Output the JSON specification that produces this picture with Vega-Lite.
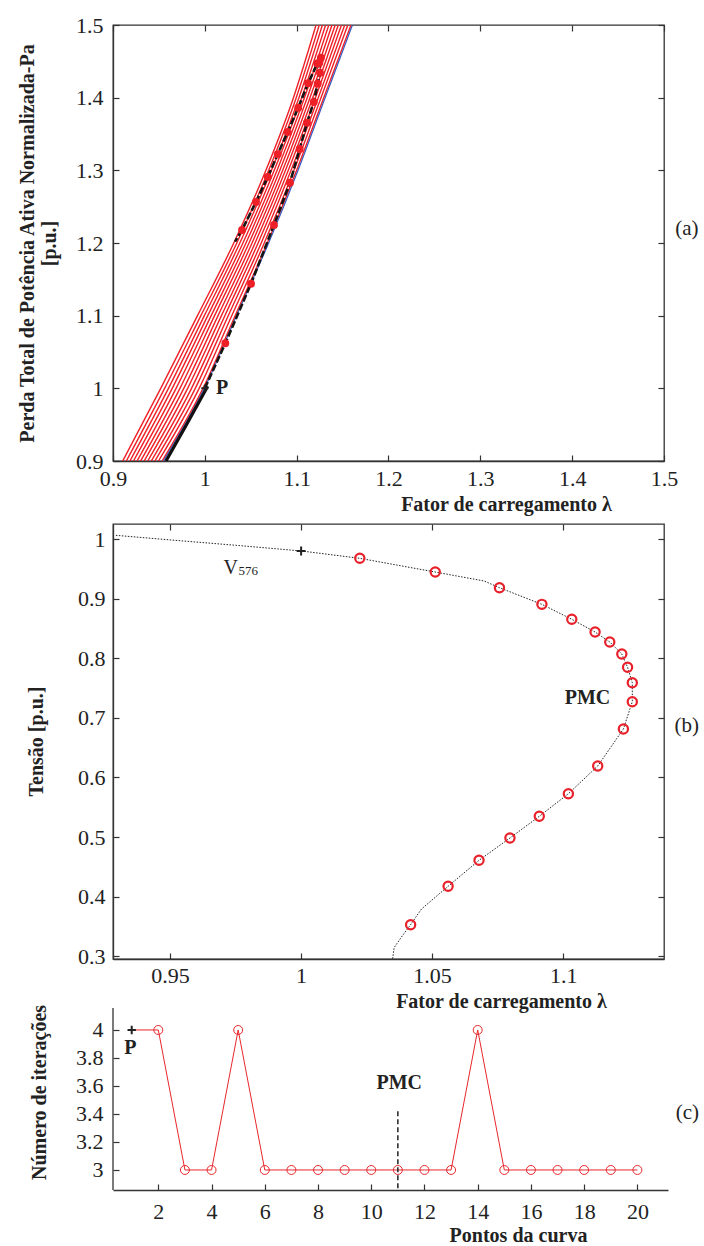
{
"$schema": "https://vega.github.io/schema/vega-lite/v6.json",
"padding": {"left": 16, "top": 13, "right": 0, "bottom": 0},
"bounds": "flush",
"spacing": 63,
"config": {
 "font": "Liberation Serif",
 "view": {"stroke": "#333", "strokeWidth": 1.3},
 "axis": {"labelFont": "Liberation Serif", "labelFontSize": 22, "labelColor": "#222", "titleFont": "Liberation Serif", "titleFontSize": 20, "titleFontWeight": "bold", "titleColor": "#222", "domainColor": "#333", "domainWidth": 1.3, "tickColor": "#333", "tickWidth": 1.2, "tickSize": -6, "grid": false, "labelFlush": false, "labelOverlap": false, "format": "~g", "titleAlign": "center", "titleBaseline": "middle"},
 "text": {"font": "Liberation Serif", "color": "#222"}
},
"datasets": {
 "band": [
  {"k":0,"x":0.9106,"y":0.9},{"k":0,"x":0.9520,"y":1.0},{"k":0,"x":0.9920,"y":1.1},{"k":0,"x":1.0315,"y":1.2},{"k":0,"x":1.0665,"y":1.3},{"k":0,"x":1.0965,"y":1.4},{"k":0,"x":1.1211,"y":1.5},
  {"k":1,"x":0.9145,"y":0.9},{"k":1,"x":0.9562,"y":1.0},{"k":1,"x":0.9957,"y":1.1},{"k":1,"x":1.0348,"y":1.2},{"k":1,"x":1.0695,"y":1.3},{"k":1,"x":1.0995,"y":1.4},{"k":1,"x":1.1246,"y":1.5},
  {"k":2,"x":0.9184,"y":0.9},{"k":2,"x":0.9604,"y":1.0},{"k":2,"x":0.9995,"y":1.1},{"k":2,"x":1.0381,"y":1.2},{"k":2,"x":1.0726,"y":1.3},{"k":2,"x":1.1025,"y":1.4},{"k":2,"x":1.1280,"y":1.5},
  {"k":3,"x":0.9223,"y":0.9},{"k":3,"x":0.9645,"y":1.0},{"k":3,"x":1.0032,"y":1.1},{"k":3,"x":1.0415,"y":1.2},{"k":3,"x":1.0756,"y":1.3},{"k":3,"x":1.1055,"y":1.4},{"k":3,"x":1.1315,"y":1.5},
  {"k":4,"x":0.9262,"y":0.9},{"k":4,"x":0.9687,"y":1.0},{"k":4,"x":1.0069,"y":1.1},{"k":4,"x":1.0448,"y":1.2},{"k":4,"x":1.0787,"y":1.3},{"k":4,"x":1.1085,"y":1.4},{"k":4,"x":1.1350,"y":1.5},
  {"k":5,"x":0.9301,"y":0.9},{"k":5,"x":0.9729,"y":1.0},{"k":5,"x":1.0106,"y":1.1},{"k":5,"x":1.0481,"y":1.2},{"k":5,"x":1.0817,"y":1.3},{"k":5,"x":1.1115,"y":1.4},{"k":5,"x":1.1384,"y":1.5},
  {"k":6,"x":0.9339,"y":0.9},{"k":6,"x":0.9771,"y":1.0},{"k":6,"x":1.0144,"y":1.1},{"k":6,"x":1.0514,"y":1.2},{"k":6,"x":1.0848,"y":1.3},{"k":6,"x":1.1145,"y":1.4},{"k":6,"x":1.1419,"y":1.5},
  {"k":7,"x":0.9378,"y":0.9},{"k":7,"x":0.9813,"y":1.0},{"k":7,"x":1.0181,"y":1.1},{"k":7,"x":1.0547,"y":1.2},{"k":7,"x":1.0878,"y":1.3},{"k":7,"x":1.1175,"y":1.4},{"k":7,"x":1.1453,"y":1.5},
  {"k":8,"x":0.9417,"y":0.9},{"k":8,"x":0.9855,"y":1.0},{"k":8,"x":1.0218,"y":1.1},{"k":8,"x":1.0580,"y":1.2},{"k":8,"x":1.0909,"y":1.3},{"k":8,"x":1.1205,"y":1.4},{"k":8,"x":1.1488,"y":1.5},
  {"k":9,"x":0.9456,"y":0.9},{"k":9,"x":0.9896,"y":1.0},{"k":9,"x":1.0255,"y":1.1},{"k":9,"x":1.0614,"y":1.2},{"k":9,"x":1.0939,"y":1.3},{"k":9,"x":1.1235,"y":1.4},{"k":9,"x":1.1523,"y":1.5},
  {"k":10,"x":0.9495,"y":0.9},{"k":10,"x":0.9938,"y":1.0},{"k":10,"x":1.0293,"y":1.1},{"k":10,"x":1.0647,"y":1.2},{"k":10,"x":1.0970,"y":1.3},{"k":10,"x":1.1265,"y":1.4},{"k":10,"x":1.1557,"y":1.5},
  {"k":11,"x":0.9534,"y":0.9},{"k":11,"x":0.9980,"y":1.0},{"k":11,"x":1.0330,"y":1.1},{"k":11,"x":1.0680,"y":1.2},{"k":11,"x":1.1000,"y":1.3},{"k":11,"x":1.1295,"y":1.4},{"k":11,"x":1.1592,"y":1.5}
 ],
 "blueA": [
  {"x":0.9549,"y":0.9},{"x":0.9995,"y":1.0},{"x":1.0345,"y":1.1},{"x":1.0695,"y":1.2},{"x":1.1015,"y":1.3},{"x":1.1310,"y":1.4},{"x":1.1607,"y":1.5}
 ],
 "blackA": [
  {"x":0.9577,"y":0.9},{"x":0.9800,"y":0.95},{"x":1.0031,"y":1.003}
 ],
 "pathA": [
  {"o":1,"x":1.0000,"y":1.0000,"dot":0},
  {"o":2,"x":1.0223,"y":1.0620,"dot":1},
  {"o":3,"x":1.0503,"y":1.1440,"dot":1},
  {"o":4,"x":1.0753,"y":1.2248,"dot":1},
  {"o":5,"x":1.0927,"y":1.2830,"dot":1},
  {"o":6,"x":1.1033,"y":1.3294,"dot":1},
  {"o":7,"x":1.1113,"y":1.3656,"dot":1},
  {"o":8,"x":1.1186,"y":1.3940,"dot":1},
  {"o":9,"x":1.1229,"y":1.4192,"dot":1},
  {"o":10,"x":1.1254,"y":1.4344,"dot":1},
  {"o":11,"x":1.1247,"y":1.4481,"dot":1},
  {"o":12,"x":1.1264,"y":1.4550,"dot":1},
  {"o":13,"x":1.1225,"y":1.4470,"dot":1},
  {"o":14,"x":1.1124,"y":1.4198,"dot":1},
  {"o":15,"x":1.1017,"y":1.3862,"dot":1},
  {"o":16,"x":1.0902,"y":1.3528,"dot":1},
  {"o":17,"x":1.0794,"y":1.3221,"dot":1},
  {"o":18,"x":1.0685,"y":1.2908,"dot":1},
  {"o":19,"x":1.0557,"y":1.2564,"dot":1},
  {"o":20,"x":1.0405,"y":1.2179,"dot":1},
  {"o":21,"x":1.0329,"y":1.2018,"dot":0}
 ],
 "curveB": [
  {"o":0,"x":0.9293,"y":1.0062},{"o":1,"x":0.9500,"y":0.9985},{"o":2,"x":0.9750,"y":0.9895},{"o":3,"x":1.0000,"y":0.9800},
  {"o":4,"x":1.0224,"y":0.9676},{"o":5,"x":1.0512,"y":0.9446},{"o":6,"x":1.0699,"y":0.9295},{"o":7,"x":1.0757,"y":0.9183},
  {"o":8,"x":1.0919,"y":0.8904},{"o":9,"x":1.1033,"y":0.8653},{"o":10,"x":1.1122,"y":0.8440},{"o":11,"x":1.1178,"y":0.8272},
  {"o":12,"x":1.1224,"y":0.8070},{"o":13,"x":1.1246,"y":0.7847},{"o":14,"x":1.1264,"y":0.7589},{"o":15,"x":1.1264,"y":0.7270},
  {"o":16,"x":1.1230,"y":0.6812},{"o":17,"x":1.1132,"y":0.6191},{"o":18,"x":1.1020,"y":0.5726},{"o":19,"x":1.0909,"y":0.5347},
  {"o":20,"x":1.0797,"y":0.4983},{"o":21,"x":1.0679,"y":0.4609},{"o":22,"x":1.0561,"y":0.4173},{"o":23,"x":1.0459,"y":0.3790},
  {"o":24,"x":1.0418,"y":0.3529},{"o":25,"x":1.0381,"y":0.3310},{"o":26,"x":1.0355,"y":0.3143},{"o":27,"x":1.0349,"y":0.2953}
 ],
 "circB": [
  {"pt":2,"x":1.0224,"y":0.9676},{"pt":3,"x":1.0512,"y":0.9446},{"pt":4,"x":1.0757,"y":0.9183},{"pt":5,"x":1.0919,"y":0.8904},
  {"pt":6,"x":1.1033,"y":0.8653},{"pt":7,"x":1.1122,"y":0.8440},{"pt":8,"x":1.1178,"y":0.8272},{"pt":9,"x":1.1224,"y":0.8070},
  {"pt":10,"x":1.1246,"y":0.7847},{"pt":11,"x":1.1264,"y":0.7589},{"pt":12,"x":1.1264,"y":0.7270},{"pt":13,"x":1.1230,"y":0.6812},
  {"pt":14,"x":1.1132,"y":0.6191},{"pt":15,"x":1.1020,"y":0.5726},{"pt":16,"x":1.0909,"y":0.5347},{"pt":17,"x":1.0797,"y":0.4983},
  {"pt":18,"x":1.0679,"y":0.4609},{"pt":19,"x":1.0561,"y":0.4173},{"pt":20,"x":1.0418,"y":0.3529}
 ],
 "iterC": [
  {"pt":1,"it":4},{"pt":2,"it":4},{"pt":3,"it":3},{"pt":4,"it":3},{"pt":5,"it":4},{"pt":6,"it":3},{"pt":7,"it":3},
  {"pt":8,"it":3},{"pt":9,"it":3},{"pt":10,"it":3},{"pt":11,"it":3},{"pt":12,"it":3},{"pt":13,"it":3},{"pt":14,"it":4},
  {"pt":15,"it":3},{"pt":16,"it":3},{"pt":17,"it":3},{"pt":18,"it":3},{"pt":19,"it":3},{"pt":20,"it":3}
 ]
},
"vconcat": [
 {
  "width": 551, "height": 436,
  "resolve": {"axis": {"x": "independent", "y": "independent"}},
  "layer": [
   {
    "layer": [
     {"data": {"name": "band"}, "mark": {"type": "line", "color": "#ee2027", "strokeWidth": 1.4, "clip": true, "interpolate": "monotone"},
      "encoding": {
       "x": {"field": "x", "type": "quantitative", "scale": {"domain": [0.9, 1.5], "nice": false, "zero": false},
             "axis": {"values": [0.9, 1, 1.1, 1.2, 1.3, 1.4, 1.5], "tickCount": 20, "labelOverlap": false, "labelPadding": 13, "title": "Fator de carregamento λ", "titleX": 393, "titleY": 43}},
       "y": {"field": "y", "type": "quantitative", "scale": {"domain": [0.9, 1.5], "nice": false, "zero": false},
             "axis": {"values": [0.9, 1, 1.1, 1.2, 1.3, 1.4, 1.5], "tickCount": 20, "labelOverlap": false, "labelPadding": 16, "title": ["Perda Total de Potência Ativa Normalizada-Pa", "[p.u.]"], "titleLineHeight": 22, "titleX": -86, "titleY": 218}},
       "detail": {"field": "k"}, "order": {"field": "y"}}},
     {"data": {"name": "blueA"}, "mark": {"type": "line", "color": "#3a5bbf", "strokeWidth": 1.2, "clip": true, "interpolate": "monotone"},
      "encoding": {"x": {"field": "x", "type": "quantitative"}, "y": {"field": "y", "type": "quantitative"}, "order": {"field": "y"}}},
     {"data": {"name": "blackA"}, "mark": {"type": "line", "color": "#111", "strokeWidth": 3.2, "clip": true},
      "encoding": {"x": {"field": "x", "type": "quantitative"}, "y": {"field": "y", "type": "quantitative"}, "order": {"field": "y"}}},
     {"data": {"name": "pathA"}, "mark": {"type": "line", "color": "#151515", "strokeWidth": 2.6, "strokeDash": [7, 2.5]},
      "encoding": {"x": {"field": "x", "type": "quantitative"}, "y": {"field": "y", "type": "quantitative"}, "order": {"field": "o"}}},
     {"data": {"name": "pathA"}, "transform": [{"filter": "datum.dot == 1"}], "mark": {"type": "point", "filled": true, "color": "#ee2027", "size": 62, "opacity": 1},
      "encoding": {"x": {"field": "x", "type": "quantitative"}, "y": {"field": "y", "type": "quantitative"}}},
     {"data": {"values": [{"x": 1.0, "y": 1.0}]}, "mark": {"type": "point", "shape": "M-1,0L1,0M0,-1L0,1", "filled": false, "stroke": "#222", "strokeWidth": 2, "size": 50, "opacity": 1},
      "encoding": {"x": {"field": "x", "type": "quantitative"}, "y": {"field": "y", "type": "quantitative"}}},
     {"data": {"values": [{"x": 1.0122, "y": 1.0, "t": "P"}]}, "mark": {"type": "text", "align": "left", "baseline": "middle", "fontWeight": "bold", "fontSize": 20},
      "encoding": {"x": {"field": "x", "type": "quantitative"}, "y": {"field": "y", "type": "quantitative"}, "text": {"field": "t"}}},
     {"data": {"values": [{"x": 1.525, "y": 1.219, "t": "(a)"}]}, "mark": {"type": "text", "align": "center", "baseline": "middle", "fontSize": 21},
      "encoding": {"x": {"field": "x", "type": "quantitative"}, "y": {"field": "y", "type": "quantitative"}, "text": {"field": "t"}}}
    ]
   },
   {"data": {"values": [{"x": 1.0, "y": 1.0}]}, "mark": {"type": "point", "opacity": 0},
    "encoding": {
     "x": {"field": "x", "type": "quantitative", "scale": {"domain": [0.9, 1.5], "nice": false, "zero": false},
           "axis": {"orient": "top", "values": [0.9, 1, 1.1, 1.2, 1.3, 1.4, 1.5], "tickCount": 20, "labels": false, "domain": false, "title": null}},
     "y": {"field": "y", "type": "quantitative", "scale": {"domain": [0.9, 1.5], "nice": false, "zero": false},
           "axis": {"orient": "right", "values": [0.9, 1, 1.1, 1.2, 1.3, 1.4, 1.5], "tickCount": 20, "labels": false, "domain": false, "title": null}}}}
  ]
 },
 {
  "width": 551, "height": 435,
  "resolve": {"axis": {"x": "independent", "y": "independent"}},
  "layer": [
   {
    "layer": [
     {"data": {"name": "curveB"}, "mark": {"type": "line", "color": "#222", "strokeWidth": 1, "strokeDash": [1.5, 1.5], "clip": true},
      "encoding": {
       "x": {"field": "x", "type": "quantitative", "scale": {"domain": [0.9282, 1.1385], "nice": false, "zero": false},
             "axis": {"values": [0.95, 1, 1.05, 1.1], "tickCount": 20, "labelOverlap": false, "labelPadding": 12, "title": "Fator de carregamento λ", "titleX": 388, "titleY": 42}},
       "y": {"field": "y", "type": "quantitative", "scale": {"domain": [0.2953, 1.0252], "nice": false, "zero": false},
             "axis": {"values": [0.3, 0.4, 0.5, 0.6, 0.7, 0.8, 0.9, 1], "tickCount": 20, "labelOverlap": false, "labelPadding": 14, "title": "Tensão [p.u.]", "titleX": -77, "titleY": 217}},
       "order": {"field": "o"}}},
     {"data": {"name": "circB"}, "mark": {"type": "point", "filled": false, "stroke": "#e8202a", "strokeWidth": 2.2, "size": 85, "opacity": 1},
      "encoding": {"x": {"field": "x", "type": "quantitative"}, "y": {"field": "y", "type": "quantitative"}}},
     {"data": {"values": [{"x": 1.0, "y": 0.98}]}, "mark": {"type": "point", "shape": "M-1,0L1,0M0,-1L0,1", "filled": false, "stroke": "#222", "strokeWidth": 2, "size": 80, "opacity": 1},
      "encoding": {"x": {"field": "x", "type": "quantitative"}, "y": {"field": "y", "type": "quantitative"}}},
     {"data": {"values": [{"x": 0.9704, "y": 0.9513, "t": "V"}]}, "mark": {"type": "text", "align": "left", "baseline": "middle", "fontSize": 20},
      "encoding": {"x": {"field": "x", "type": "quantitative"}, "y": {"field": "y", "type": "quantitative"}, "text": {"field": "t"}}},
     {"data": {"values": [{"x": 0.9761, "y": 0.9463, "t": "576"}]}, "mark": {"type": "text", "align": "left", "baseline": "middle", "fontSize": 13},
      "encoding": {"x": {"field": "x", "type": "quantitative"}, "y": {"field": "y", "type": "quantitative"}, "text": {"field": "t"}}},
     {"data": {"values": [{"x": 1.1093, "y": 0.7332, "t": "PMC"}]}, "mark": {"type": "text", "align": "center", "baseline": "middle", "fontSize": 20, "fontWeight": "bold"},
      "encoding": {"x": {"field": "x", "type": "quantitative"}, "y": {"field": "y", "type": "quantitative"}, "text": {"field": "t"}}},
     {"data": {"values": [{"x": 1.1472, "y": 0.6862, "t": "(b)"}]}, "mark": {"type": "text", "align": "center", "baseline": "middle", "fontSize": 21},
      "encoding": {"x": {"field": "x", "type": "quantitative"}, "y": {"field": "y", "type": "quantitative"}, "text": {"field": "t"}}}
    ]
   },
   {"data": {"values": [{"x": 1.0, "y": 0.5}]}, "mark": {"type": "point", "opacity": 0},
    "encoding": {
     "x": {"field": "x", "type": "quantitative", "scale": {"domain": [0.9282, 1.1385], "nice": false, "zero": false},
           "axis": {"orient": "top", "values": [0.95, 1, 1.05, 1.1], "tickCount": 20, "labels": false, "domain": false, "title": null}},
     "y": {"field": "y", "type": "quantitative", "scale": {"domain": [0.2953, 1.0252], "nice": false, "zero": false},
           "axis": {"orient": "right", "values": [0.3, 0.4, 0.5, 0.6, 0.7, 0.8, 0.9, 1], "tickCount": 20, "labels": false, "domain": false, "title": null}}}}
  ]
 },
 {
  "width": 555, "height": 168,
  "view": {"stroke": null},
  "layer": [
   {"data": {"name": "iterC"}, "mark": {"type": "line", "color": "#e8262b", "strokeWidth": 1},
    "encoding": {
     "x": {"field": "pt", "type": "quantitative", "scale": {"domain": [0.297, 21.15], "nice": false, "zero": false},
           "axis": {"values": [2, 4, 6, 8, 10, 12, 14, 16, 18, 20], "tickCount": 20, "labelOverlap": false, "labelPadding": 17, "title": "Pontos da curva", "titleX": 405, "titleY": 45}},
     "y": {"field": "it", "type": "quantitative", "scale": {"domain": [2.857, 4.057], "nice": false, "zero": false},
           "axis": {"values": [3, 3.2, 3.4, 3.6, 3.8, 4], "tickCount": 20, "labelOverlap": false, "domain": false, "labelPadding": 16, "title": "Número de iterações", "titleX": -74, "titleY": 70}},
     "order": {"field": "pt"}}},
   {"data": {"name": "iterC"}, "transform": [{"filter": "datum.pt >= 2"}], "mark": {"type": "point", "filled": false, "stroke": "#e8262b", "strokeWidth": 1, "size": 80, "opacity": 1},
    "encoding": {"x": {"field": "pt", "type": "quantitative"}, "y": {"field": "it", "type": "quantitative"}}},
   {"data": {"values": [{"pt": 1, "it": 4}]}, "mark": {"type": "point", "shape": "M-1,0L1,0M0,-1L0,1", "filled": false, "stroke": "#222", "strokeWidth": 2, "size": 70, "opacity": 1},
    "encoding": {"x": {"field": "pt", "type": "quantitative"}, "y": {"field": "it", "type": "quantitative"}}},
   {"data": {"values": [{"pt": 11, "it": 2.87, "it2": 3.44}]}, "mark": {"type": "rule", "color": "#222", "strokeWidth": 1.5, "strokeDash": [5, 3]},
    "encoding": {"x": {"field": "pt", "type": "quantitative"}, "y": {"field": "it", "type": "quantitative"}, "y2": {"field": "it2"}}},
   {"data": {"values": [{"pt": 0.297, "it": 2.857, "it2": 4.157}]}, "mark": {"type": "rule", "color": "#333", "strokeWidth": 1.3, "clip": false},
    "encoding": {"x": {"field": "pt", "type": "quantitative"}, "y": {"field": "it", "type": "quantitative"}, "y2": {"field": "it2"}}},
   {"data": {"values": [{"pt": 0.95, "it": 3.874, "t": "P"}, {"pt": 11.05, "it": 3.62, "t": "PMC"}]}, "mark": {"type": "text", "align": "center", "baseline": "middle", "fontSize": 20, "fontWeight": "bold"},
    "encoding": {"x": {"field": "pt", "type": "quantitative"}, "y": {"field": "it", "type": "quantitative"}, "text": {"field": "t"}}},
   {"data": {"values": [{"pt": 21.88, "it": 3.407, "t": "(c)"}]}, "mark": {"type": "text", "align": "center", "baseline": "middle", "fontSize": 21},
    "encoding": {"x": {"field": "pt", "type": "quantitative"}, "y": {"field": "it", "type": "quantitative"}, "text": {"field": "t"}}}
  ]
 }
]
}
